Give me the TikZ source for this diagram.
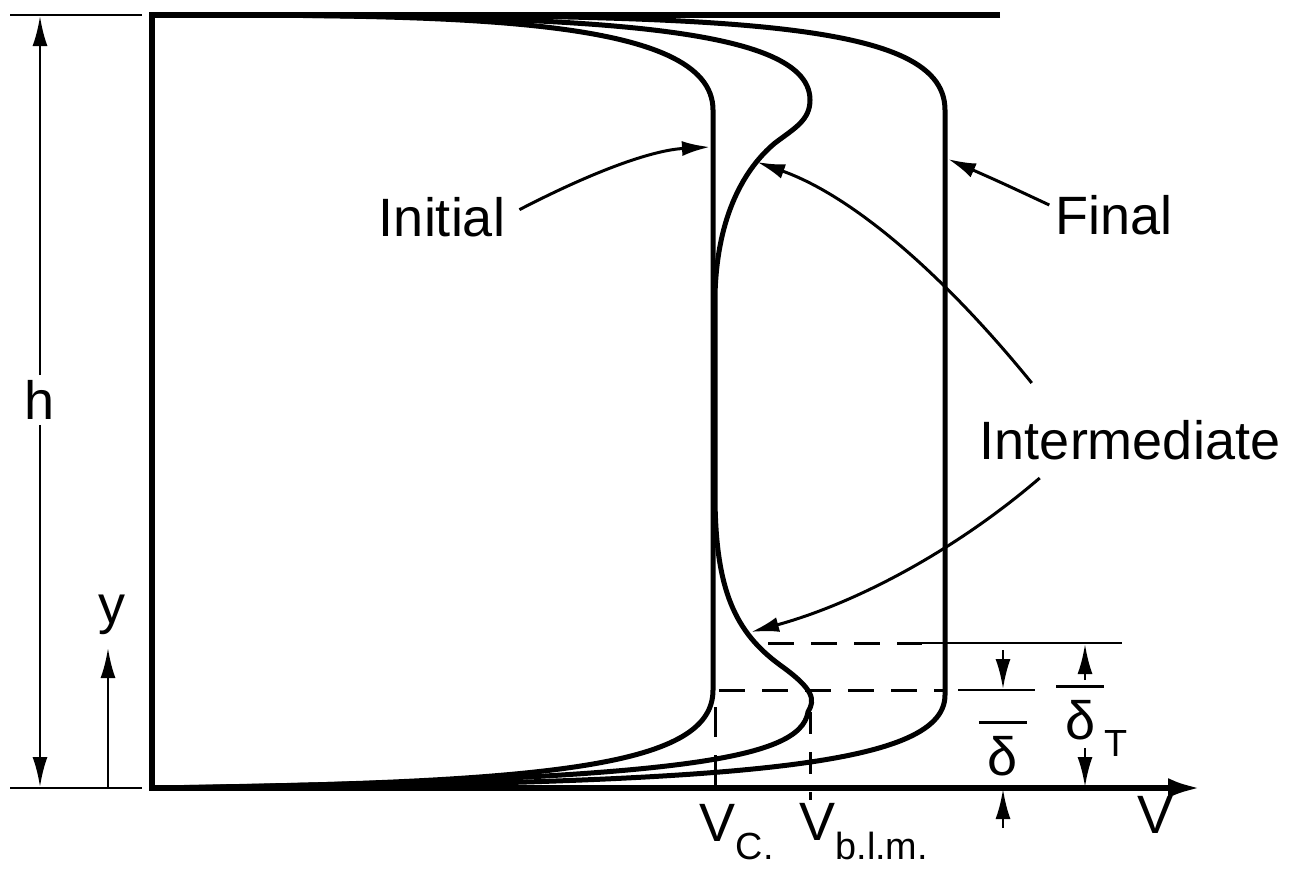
\documentclass[tikz,border=0pt]{standalone}
\usepackage{fontspec}
\setmainfont{Liberation Sans}
\usetikzlibrary{arrows.meta}
\newcommand{\ovbar}[1]{\vbox{\hrule height 3pt\kern 12pt\hbox{\,#1\,}}}

\begin{document}
\begin{tikzpicture}[x=1pt, y=-1pt,
    wall/.style={line width=5.5pt, line join=miter},
    prof/.style={line width=5pt, line cap=round, line join=round},
    dimln/.style={line width=2.8pt},
    dashln/.style={line width=3pt, dash pattern=on 26pt off 17pt},
    lead/.style={line width=3pt, -{Latex[length=28pt,width=15pt]}},
    dimtip/.style={-{Latex[length=30pt,width=15pt]}},
    lbl/.style={font=\fontsize{54}{60}\selectfont, inner sep=0pt}]

\useasboundingbox (0,0) rectangle (1309,870);

%% ── FRAME and v-axis ─────────────────────────────────────────────────────────
\draw[wall, -{Latex[length=32pt,width=20pt]}]
  (1000,15) -- (152,15) -- (152,788) -- (1200,788);
\node[lbl] (lblV) at (1155,815) {V};

%% ── VELOCITY PROFILES ────────────────────────────────────────────────────────
% Initial
\draw[prof] (152,15) .. controls (450,15) and (713,15) .. (713,110)
  -- (713,690) .. controls (713,765) and (560,783) .. (152,788);

% Intermediate -- bulges at top and bottom, touches initial in the middle
\draw[prof] (152,15) .. controls (550,15) and (810,20) .. (810,100)
  .. controls (810,120) and (795,128) .. (775,143)
  .. controls (745,168) and (717,215) .. (715,295)
  -- (715,500)
  .. controls (716,590) and (735,632) .. (780,665)
  .. controls (815,690) and (815,700) .. (808,712)
  .. controls (800,760) and (680,780) .. (152,788);

% Final
\draw[prof] (152,15) .. controls (700,14) and (945,14) .. (945,110)
  -- (945,695) .. controls (945,770) and (720,784) .. (152,788);

%% ── DASHED LEVELS and TICKS ──────────────────────────────────────────────────
\draw[dashln] (768,643) -- (922,643);
\draw[dimln] (922,643) -- (1122,643);
\draw[dashln] (719,690) -- (945,690);
\draw[dimln] (958,690) -- (1035,690);

\draw[dashln, dash pattern=on 30pt off 18pt] (715,707) -- (715,800);
\draw[dashln, dash pattern=on 22pt off 18pt] (810,712) -- (810,800);

\node[lbl] (lblVc) at (737,832) {V\textsubscript{C.}};
\node[lbl] (lblVblm) at (864,832) {V\textsubscript{b.l.m.}};

%% ── LEFT DIMENSIONS: h and y ─────────────────────────────────────────────────
\draw[dimln] (10,15) -- (142,15);
\draw[dimln] (10,788) -- (142,788);
\coordinate (hTop) at (40,16);
\coordinate (hBot) at (40,787);
\node[lbl, fill=white, inner sep=5pt] (lblH) at (40,400) {h};
\draw[dimln, dimtip] (lblH) -- (hTop);
\draw[dimln, dimtip] (lblH) -- (hBot);

\coordinate (yBase) at (108,788);
\coordinate (yTip) at (108,648);
\node[lbl] (lblY) at (112,615) {y};
\draw[dimln, dimtip] (yBase) -- (yTip);

%% ── RIGHT DIMENSIONS: delta and delta_T ──────────────────────────────────────
\coordinate (dTop) at (1003,650);
\coordinate (dLow) at (1003,689);
\coordinate (dBot) at (1003,828);
\coordinate (dAx) at (1003,789);
\draw[dimln, dimtip] (dTop) -- (dLow);
\draw[dimln, dimtip] (dBot) -- (dAx);
\node[lbl, anchor=north] (lblDelta) at (1003,721) {\ovbar{δ}};

\coordinate (tBar) at (1085,680);
\coordinate (tUp) at (1085,644);
\coordinate (tMid) at (1085,748);
\coordinate (tAx) at (1085,787);
\node[lbl, anchor=north west] (lblDeltaT) at (1056,685)
  {\ovbar{δ}\textsubscript{T}};
\draw[dimln, dimtip] (tBar) -- (tUp);
\draw[dimln, dimtip] (tMid) -- (tAx);

%% ── LABELS and LEADERS ───────────────────────────────────────────────────────
\node[lbl] (lblInit) at (442,217) {Initial};
\coordinate (initTip) at (710,147);
\draw[lead, shorten <=16pt] (lblInit.east)
  .. controls (600,168) and (655,150) .. (initTip);

\node[lbl] (lblFinal) at (1114,215) {Final};
\coordinate (finTip) at (948,159);
\draw[lead] ([shift={(-6,-10)}]lblFinal.west)
  .. controls (1000,182) .. (finTip);

\node[lbl] (lblInter) at (1130,440) {Intermediate};
\coordinate (interUpTip) at (757,162);
\coordinate (interLoTip) at (751,632);
\draw[lead] ([shift={(52,-37)}]lblInter.north west)
  .. controls (940,270) and (850,195) .. (interUpTip);
\draw[lead] ([shift={(60,18)}]lblInter.south west)
  .. controls (950,555) and (850,605) .. (interLoTip);

\end{tikzpicture}
\end{document}
